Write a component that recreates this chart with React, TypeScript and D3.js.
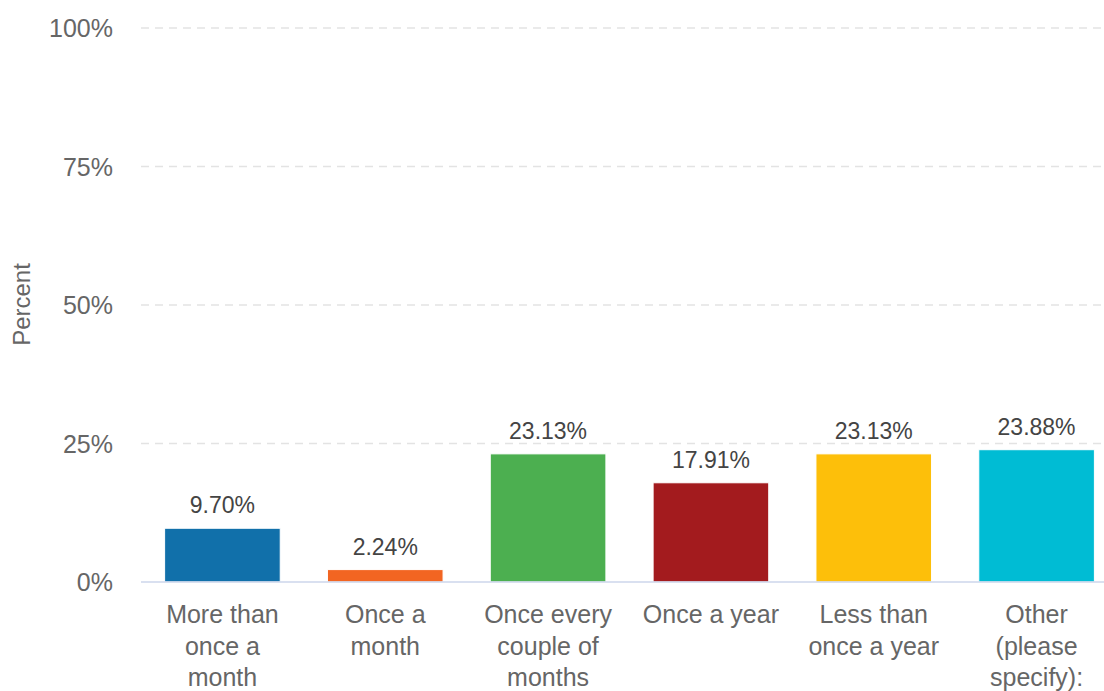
import React, { useMemo } from "react";
import * as d3 from "d3";

const categories = [
  "More than once a month",
  "Once a month",
  "Once every couple of months",
  "Once a year",
  "Less than once a year",
  "Other (please specify):",
];
const values = [9.7, 2.24, 23.13, 17.91, 23.13, 23.88];
const colors = ["#1170aa", "#f26522", "#4caf50", "#a31b1e", "#fdbf0a", "#00bcd4"];
const yTicks = [0, 25, 50, 75, 100];
const yTitle = "Percent";

const W = 1104;
const H = 691;
const FONT = "'Liberation Sans', Arial, sans-serif";

function wrap(text: string, maxW: number, font: string): string[] {
  const canvas = document.createElement("canvas");
  const ctx = canvas.getContext("2d")!;
  ctx.font = font;
  const words = text.split(" ");
  const lines: string[] = [];
  let cur = "";
  for (const w of words) {
    const t = cur ? cur + " " + w : w;
    if (cur && ctx.measureText(t).width > maxW) {
      lines.push(cur);
      cur = w;
    } else cur = t;
  }
  if (cur) lines.push(cur);
  return lines;
}

export default function App() {
  const x = d3.scaleBand<string>().domain(categories).range([141, 1118]).paddingInner(0.29).paddingOuter(0.145);
  const y = d3.scaleLinear().domain([0, 100]).range([582, 28]);
  const wrapped = useMemo(
    () => categories.map((c) => wrap(c, 145, `25px ${FONT}`)),
    []
  );
  return (
    <svg
      width={W}
      height={H}
      style={{ position: "absolute", left: 0, top: 0, background: "#fff" }}
      fontFamily={FONT}
    >
      {yTicks
        .filter((t) => t !== 0)
        .map((t) => (
          <line
            key={"g" + t}
            x1={141}
            x2={1118}
            y1={y(t)}
            y2={y(t)}
            stroke="#e3e3e3"
            strokeWidth={1.6}
            strokeDasharray="8,6"
          />
        ))}
      {yTicks.map((t) => (
        <text key={"t" + t} x={113} y={y(t) + 9} textAnchor="end" fontSize={25} fill="#666">
          {t + "%"}
        </text>
      ))}
      <text
        transform={`translate(30,${304.5}) rotate(-90)`}
        textAnchor="middle"
        fontSize={24}
        fill="#666"
      >
        {yTitle}
      </text>
      {categories.map((c, i) => (
        <rect
          key={"b" + c}
          x={x(c)!}
          y={y(values[i])}
          width={x.bandwidth()}
          height={y(0) - y(values[i])}
          fill={colors[i]}
          stroke="#fff"
          strokeWidth={1}
        />
      ))}
      <line x1={141} x2={1118} y1={582} y2={582} stroke="#ccd6eb" strokeWidth={1.5} />
      {categories.map((c, i) => (
        <text
          key={"v" + c}
          x={x(c)! + x.bandwidth() / 2}
          y={y(values[i]) - 15}
          textAnchor="middle"
          fontSize={23}
          fill="#444"
        >
          {values[i].toFixed(2) + "%"}
        </text>
      ))}
      {categories.map((c, i) => (
        <text
          key={"c" + c}
          x={x(c)! + x.bandwidth() / 2}
          textAnchor="middle"
          fontSize={25}
          fill="#666"
        >
          {wrapped[i].map((l, j) => (
            <tspan key={j} x={x(c)! + x.bandwidth() / 2} y={623 + j * 31.5}>
              {l}
            </tspan>
          ))}
        </text>
      ))}
    </svg>
  );
}
